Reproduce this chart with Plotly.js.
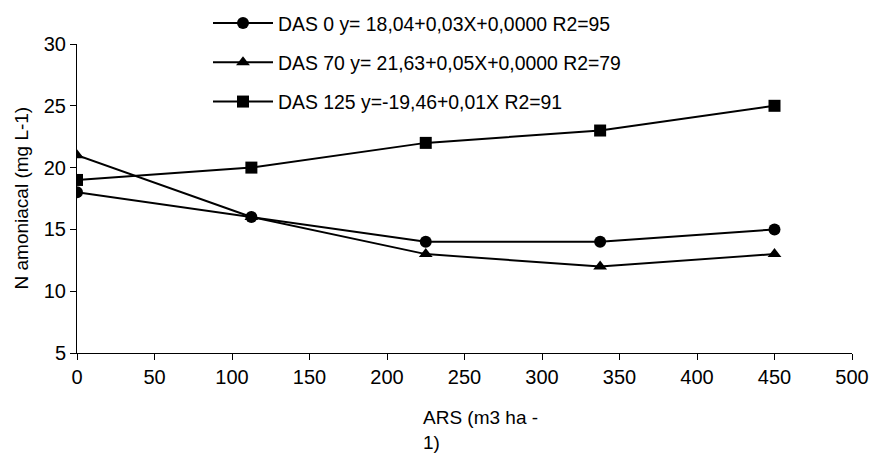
<!DOCTYPE html>
<html><head><meta charset="utf-8">
<script src="https://cdn.plot.ly/plotly-3.0.1.min.js"></script>
<style>html,body{margin:0;padding:0;background:#fff}#c{width:869px;height:453px}</style>
</head><body><div id="c"></div>
<script>
const xVals = [0, 112.5, 225, 337.5, 450];
const das0 = [18, 16, 14, 14, 15];
const das70 = [21, 16, 13, 12, 13];
const das125 = [19, 20, 22, 23, 25];
const names = ["DAS 0 y= 18,04+0,03X+0,0000 R2=95", "DAS 70 y= 21,63+0,05X+0,0000 R2=79", "DAS 125 y=-19,46+0,01X R2=91"];
const symbols = ["circle", "triangle-up", "square"];
const series = [das0, das70, das125];

const traces = series.map((ys, i) => ({
  x: xVals, y: ys, name: names[i], type: "scatter", mode: "lines+markers",
  legendgroup: "g" + i,
  line: {color: "#000", width: 2},
  marker: {symbol: symbols[i], size: 12, color: "#000"}
}));

const fam = "Liberation Sans, Arial, sans-serif";
const font = {family: fam, size: 20, color: "#000"};
const legFont = {family: fam, size: 19.4, color: "#000"};
const layout = {
  width: 869, height: 453,
  margin: {l: 77, r: 17, t: 44, b: 100, autoexpand: false},
  paper_bgcolor: "#fff", plot_bgcolor: "#fff",
  font: font,
  showlegend: true,
  legend: {x: 208/869, xref: "container", y: 1 - 4/453, yref: "container", xanchor: "left", yanchor: "top",
    font: legFont, tracegroupgap: 11, bgcolor: "rgba(0,0,0,0)", itemwidth: 60},
  xaxis: {range: [0, 500], tick0: 0, dtick: 50, ticks: "outside", ticklen: 6, tickcolor: "#000",
    showline: true, linecolor: "#000", linewidth: 1, showgrid: false, zeroline: false,
    tickfont: font},
  yaxis: {range: [5, 30], tick0: 5, dtick: 5, ticks: "outside", ticklen: 6, tickcolor: "#000",
    showline: true, linecolor: "#000", linewidth: 1, showgrid: false, zeroline: false,
    tickfont: font},
  annotations: [
    {text: "ARS (m3 ha -<br>1)", xref: "paper", yref: "paper",
      x: (421-77)/(852-77), y: -(405-353)/309, xanchor: "left", yanchor: "top", align: "left",
      showarrow: false, font: {family: fam, size: 19, color: "#000"}},
    {text: "N amoniacal (mg L-1)", xref: "paper", yref: "paper",
      x: -(77-21)/(852-77), y: 0.5, xanchor: "center", yanchor: "middle", textangle: -90,
      showarrow: false, font: {family: fam, size: 19, color: "#000"}}
  ]
};
Plotly.newPlot("c", traces, layout, {displayModeBar: false, staticPlot: true});
</script></body></html>
